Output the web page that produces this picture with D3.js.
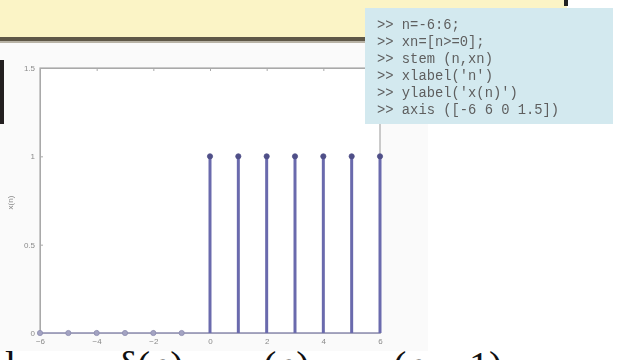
<!DOCTYPE html>
<html>
<head>
<meta charset="utf-8">
<script src="https://cdn.jsdelivr.net/npm/d3@7"></script>
<style>
  html, body { margin: 0; padding: 0; background: #fff; }
  svg { display: block; }
</style>
</head>
<body>
<div id="chart"></div>
<script>
const WIDTH = 620;
const HEIGHT = 360;

// stem data: n = -6:6, xn = (n >= 0)
const nValues = [-6, -5, -4, -3, -2, -1, 0, 1, 2, 3, 4, 5, 6];
const xnValues = [0, 0, 0, 0, 0, 0, 1, 1, 1, 1, 1, 1, 1];
const xTicks = [-6, -4, -2, 0, 2, 4, 6];
const yTicks = [0, 0.5, 1, 1.5];
const codeLines = [
  '>> n=-6:6;',
  '>> xn=[n>=0];',
  '>> stem (n,xn)',
  ">> xlabel('n')",
  ">> ylabel('x(n)')",
  '>> axis ([-6 6 0 1.5])',
];
const formulaParts = ['l', 'δ(n)', 'u(n)', 'u(n − 1)'];

const plot = { left: 40, right: 380, top: 68, bottom: 333 };

const svg = d3
  .select('#chart')
  .append('svg')
  .attr('width', WIDTH)
  .attr('height', HEIGHT);

const defs = svg.append('defs');
defs.append('filter').attr('id', 'soft')
  .append('feGaussianBlur').attr('stdDeviation', 0.6);
defs.append('filter').attr('id', 'soft2')
  .append('feGaussianBlur').attr('stdDeviation', 0.45);

// slide banner
svg.append('rect').attr('x', 0).attr('y', 0).attr('width', 567).attr('height', 40).attr('fill', '#fbf4c6');
svg.append('rect').attr('x', 564).attr('y', 0).attr('width', 4).attr('height', 6).attr('fill', '#222');
svg.append('rect').attr('x', 0).attr('y', 37).attr('width', 368).attr('height', 4).attr('fill', '#5e5747');
svg.append('rect').attr('x', 0).attr('y', 41).attr('width', 368).attr('height', 2).attr('fill', '#b8b3a6');

// matlab figure background
svg.append('rect').attr('x', 0).attr('y', 43).attr('width', 428).attr('height', 308).attr('fill', '#fafafa');
svg.append('rect').attr('x', 0).attr('y', 60).attr('width', 4).attr('height', 64).attr('fill', '#231f20');

const x = d3.scaleLinear().domain([-6, 6]).range([plot.left, plot.right]);
const y = d3.scaleLinear().domain([0, 1.5]).range([plot.bottom, plot.top]);

const g = svg.append('g').attr('filter', 'url(#soft)');

g.append('rect')
  .attr('x', plot.left).attr('y', plot.top)
  .attr('width', plot.right - plot.left).attr('height', plot.bottom - plot.top)
  .attr('fill', '#fff').attr('stroke', '#a9a9a9').attr('stroke-width', 1.2);

const axisStyle = (sel) => {
  sel.select('.domain').attr('stroke', '#a9a9a9');
  sel.selectAll('.tick line').attr('stroke', '#a9a9a9');
  sel.selectAll('.tick text').attr('fill', '#8a8a8a').attr('font-size', 8).attr('font-family', 'Liberation Sans, sans-serif');
};

g.append('g')
  .attr('transform', `translate(${plot.left},0)`)
  .call(d3.axisLeft(y).tickValues(yTicks).tickSize(-3).tickPadding(5).tickFormat(d3.format('')))
  .call(axisStyle);

g.append('g')
  .attr('transform', `translate(0,${plot.bottom})`)
  .call(d3.axisBottom(x).tickValues(xTicks).tickSize(-3).tickPadding(5))
  .call(axisStyle);

g.append('g')
  .attr('transform', `translate(0,${plot.top})`)
  .call(d3.axisTop(x).tickValues(xTicks).tickSize(-3).tickFormat(''))
  .call(axisStyle);

g.append('text')
  .attr('transform', `translate(13,${(plot.top + plot.bottom) / 2 + 2}) rotate(-90)`)
  .attr('text-anchor', 'middle')
  .attr('font-size', 8)
  .attr('font-family', 'Liberation Sans, sans-serif')
  .attr('fill', '#8a8a8a')
  .text('x(n)');

const stems = nValues.map((n, i) => ({ n, v: xnValues[i] }));

// baseline
g.append('line')
  .attr('x1', x(-6)).attr('x2', x(6))
  .attr('y1', y(0)).attr('y2', y(0))
  .attr('stroke', '#9d9dbf').attr('stroke-width', 1.3);

g.selectAll('line.stem')
  .data(stems.filter((d) => d.v !== 0))
  .join('line')
  .attr('class', 'stem')
  .attr('x1', (d) => x(d.n)).attr('x2', (d) => x(d.n))
  .attr('y1', y(0)).attr('y2', (d) => y(d.v))
  .attr('stroke', '#6a6aad').attr('stroke-width', 3);

g.selectAll('circle.mark')
  .data(stems)
  .join('circle')
  .attr('class', 'mark')
  .attr('cx', (d) => x(d.n))
  .attr('cy', (d) => y(d.v))
  .attr('r', 2.6)
  .attr('fill', (d) => (d.v === 0 ? '#a3a3c2' : '#4f4f88'))
  .attr('stroke', (d) => (d.v === 0 ? '#8c8cae' : '#4f4f88'))
  .attr('stroke-width', 0.8);

// code box
const code = svg.append('g').attr('filter', 'url(#soft2)');
code.append('rect')
  .attr('x', 365).attr('y', 8).attr('width', 248).attr('height', 116)
  .attr('fill', '#d3e9ef');
code.selectAll('text')
  .data(codeLines)
  .join('text')
  .attr('x', 377)
  .attr('y', (d, i) => 29 + i * 17)
  .attr('font-family', 'Liberation Mono, monospace')
  .attr('font-size', 13.8)
  .attr('fill', '#5e5e5e')
  .text((d) => d);

// formula on the slide, cut off at the bottom
const fx = [5, 118, 243, 373];
svg.append('g')
  .selectAll('text')
  .data(formulaParts)
  .join('text')
  .attr('x', (d, i) => fx[i])
  .attr('y', 379)
  .attr('font-family', 'Liberation Serif, serif')
  .attr('font-size', 40)
  .attr('fill', '#111')
  .text((d) => d);
</script>
</body>
</html>
